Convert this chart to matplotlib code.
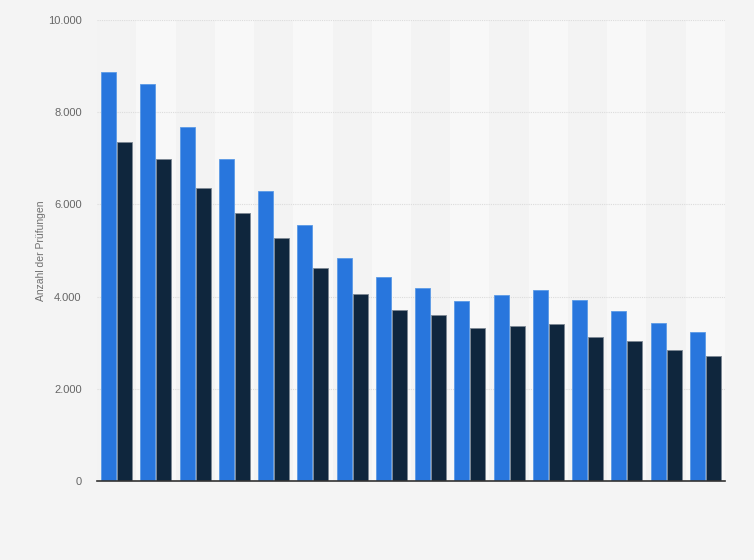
import matplotlib
matplotlib.use("Agg")
import matplotlib.pyplot as plt
import numpy as np
from matplotlib.ticker import FuncFormatter

plt.rcParams['font.family'] = ['Liberation Sans', 'DejaVu Sans']

# values (16 groups, two series)
series_a = [8866, 8605, 7672, 6978, 6284, 5546, 4830, 4432,
            4194, 3897, 4027, 4136, 3919, 3680, 3420, 3225]
series_b = [7347, 6978, 6349, 5806, 5265, 4614, 4046, 3703,
            3594, 3326, 3369, 3398, 3131, 3030, 2849, 2718]
y_ticks = [0, 2000, 4000, 6000, 8000, 10000]

color_a = '#2876dd'
color_b = '#0f263d'


def german_thousands(v, _pos):
    return f'{int(v):,}'.replace(',', '.')


fig = plt.figure(figsize=(7.54, 5.60), dpi=100, facecolor='#f4f4f4')
ax = fig.add_axes([97 / 754, 1 - 481 / 560, 628 / 754, 461 / 560])
ax.set_facecolor('#f4f4f4')

n = len(series_a)
x = np.arange(n)

# alternating column bands
for i in range(n):
    shade = '#f3f3f3' if i % 2 == 0 else '#f8f8f8'
    ax.axvspan(i - 0.5, i + 0.5, color=shade, zorder=0, lw=0)

ax.bar(x - 0.205, series_a, width=0.38, color=color_a,
       edgecolor='#5b9ae6', linewidth=0.6, zorder=3)
ax.bar(x + 0.205, series_b, width=0.38, color=color_b,
       edgecolor='#7d8894', linewidth=0.6, zorder=3)

ax.set_xlim(-0.5, n - 0.5)
ax.set_ylim(0, 10000)
ax.set_yticks(y_ticks)
ax.yaxis.set_major_formatter(FuncFormatter(german_thousands))
ax.set_xticks([])

ax.grid(axis='y', color='#dcdcdc', linestyle=(0, (1, 1)), linewidth=0.8, zorder=1)
ax.tick_params(axis='y', length=0, pad=11, labelsize=8, labelcolor='#666666')

for side in ['top', 'right', 'left']:
    ax.spines[side].set_visible(False)
ax.spines['bottom'].set_color('#333333')
ax.spines['bottom'].set_linewidth(1.2)
ax.spines['bottom'].set_zorder(4)

fig.text(41 / 754, 1 - 251 / 560, 'Anzahl der Prüfungen', rotation=90,
         ha='center', va='center', fontsize=7.5, color='#707070')

fig.savefig('out.png', dpi=100, facecolor=fig.get_facecolor())
